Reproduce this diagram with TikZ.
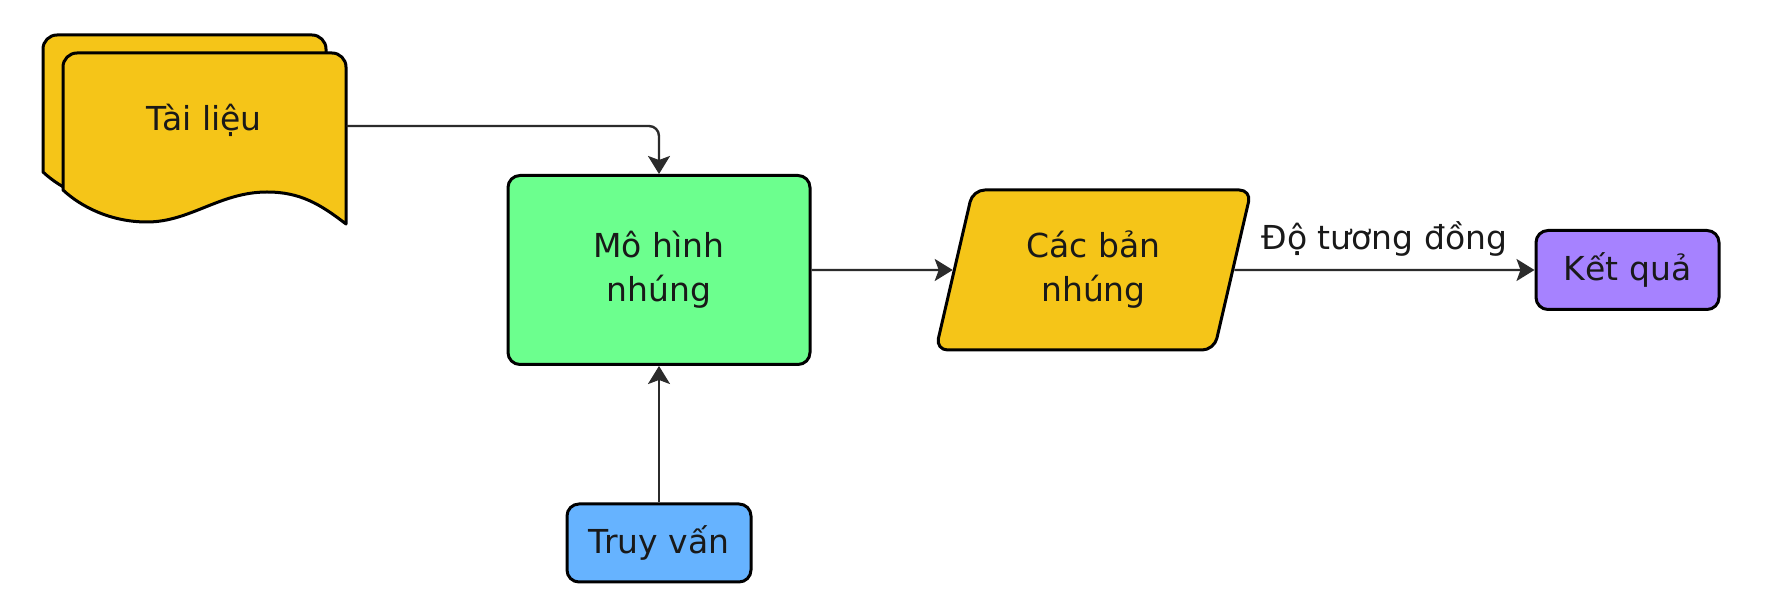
\documentclass[tikz,border=0pt]{standalone}
\usepackage{fontspec}
\setmainfont{DejaVu Sans}
\usetikzlibrary{arrows.meta,shapes.geometric}
\definecolor{docyellow}{HTML}{F5C518}
\definecolor{modelgreen}{HTML}{6CFF8E}
\definecolor{queryblue}{HTML}{66B3FF}
\definecolor{resultpurple}{HTML}{A682FF}
\definecolor{edgegray}{HTML}{2B2B2B}
\begin{document}
\begin{tikzpicture}[>={Stealth[length=9bp,width=11bp,inset=2bp]},line join=round,
  box/.style={draw=black,line width=1.5bp,rounded corners=6bp,align=center,text=black!90,
    font=\fontsize{16.5bp}{22bp}\selectfont},
  docpage/.style={draw=black,line width=1.5bp,fill=docyellow},
  link/.style={edgegray,line width=1.2bp,->}]
%%
\useasboundingbox (0bp,0bp) rectangle (883.5bp,304bp);
% stacked pages
\draw [docpage,shift={(-10bp,9bp)}] (31.5bp,209bp) -- (31.5bp,270.5bp) arc[start angle=180,end angle=90,radius=7bp]
  -- (166bp,277.5bp) arc[start angle=90,end angle=0,radius=7bp] -- (173bp,192bp)
  .. controls (160bp,202bp) and (150bp,208bp) .. (133.5bp,208bp)
  .. controls (110bp,208bp) and (95bp,193bp) .. (73.5bp,193bp)
  .. controls (55bp,193bp) and (40bp,201bp) .. cycle;
\draw [docpage] (31.5bp,209bp) -- (31.5bp,270.5bp) arc[start angle=180,end angle=90,radius=7bp]
  -- (166bp,277.5bp) arc[start angle=90,end angle=0,radius=7bp] -- (173bp,192bp)
  .. controls (160bp,202bp) and (150bp,208bp) .. (133.5bp,208bp)
  .. controls (110bp,208bp) and (95bp,193bp) .. (73.5bp,193bp)
  .. controls (55bp,193bp) and (40bp,201bp) .. cycle;
%
\node (node_tailieu) at (102bp,244bp) [box,draw=none,minimum width=141bp,minimum height=68bp] {Tài liệu};
\node (node_mohinh) at (329.5bp,169bp) [box,fill=modelgreen,minimum width=151bp,minimum height=94.5bp] {Mô hình\\nhúng};
\node (node_banhung) at (546.75bp,169bp) [box,fill=docyellow,trapezium,trapezium left angle=76,trapezium right angle=104,
  trapezium stretches=true,minimum width=158.5bp,minimum height=80bp] {Các bản\\nhúng};
\node (node_ketqua) at (813.75bp,169bp) [box,fill=resultpurple,minimum width=91.5bp,minimum height=39.5bp] {Kết quả};
\node (node_truyvan) at (329.5bp,32.5bp) [box,fill=queryblue,minimum width=92bp,minimum height=39bp] {Truy vấn};
%
\draw [link,rounded corners=5bp] ([yshift=-3bp]node_tailieu.east) -| (node_mohinh);
\draw [link] (node_truyvan) -- (node_mohinh);
\draw [link] (node_mohinh) -- (node_banhung);
\draw [link] (node_banhung) -- node [above=3bp,font=\fontsize{16.5bp}{22bp}\selectfont,text=black!90] {Độ tương đồng} (node_ketqua);
%
\end{tikzpicture}
\end{document}
